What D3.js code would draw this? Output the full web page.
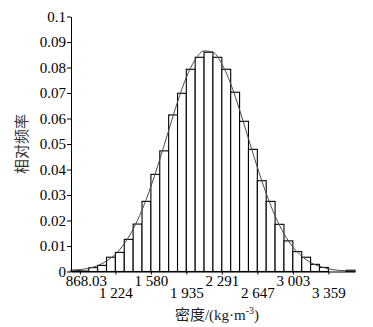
<!DOCTYPE html>
<html>
<head>
<meta charset="utf-8">
<script src="https://cdn.jsdelivr.net/npm/d3@7"></script>
<style>
body { margin: 0; background: #fff; }
text { font-family: "Liberation Serif", "Noto Sans CJK SC", serif; }
</style>
</head>
<body>
<div id="chart"></div>
<script>
// bin edges (kg/m3), 32 bins of ~89
var binEdges = [779.03, 868.03, 957, 1046, 1135, 1224, 1313, 1402, 1491, 1580, 1669,
                1758, 1847, 1935, 2024, 2113, 2202, 2291, 2380, 2469, 2558, 2647,
                2736, 2825, 2914, 3003, 3092, 3181, 3270, 3359, 3448, 3537, 3626];

// relative frequency of each bin
var relFreq = [0.0005, 0.0002, 0.0015, 0.0024, 0.0056, 0.0075, 0.0126, 0.0186,
               0.0275, 0.0381, 0.0473, 0.0614, 0.0699, 0.0793, 0.0840, 0.0860,
               0.0840, 0.0793, 0.0703, 0.0589, 0.0479, 0.0356, 0.0275, 0.0185,
               0.0120, 0.0078, 0.0056, 0.0028, 0.0016, 0, 0, 0.0005];

// fitted curve, read at each bin edge
var fitCurve = [0.0003, 0.0007, 0.0013, 0.0023, 0.0041, 0.0068, 0.0109, 0.0166,
                0.0241, 0.0333, 0.0440, 0.0553, 0.0665, 0.0761, 0.0831, 0.0865,
                0.0860, 0.0814, 0.0736, 0.0634, 0.0521, 0.0409, 0.0306, 0.0218,
                0.0148, 0.0096, 0.0060, 0.0035, 0.0020, 0.0011, 0.0005, 0.0003, 0.0001];

var xTicks = [868.03, 1224, 1580, 1935, 2291, 2647, 3003, 3359];
var xTickLabels = ["868.03", "1 224", "1 580", "1 935", "2 291", "2 647", "3 003", "3 359"];

var yTicks = [0, 0.01, 0.02, 0.03, 0.04, 0.05, 0.06, 0.07, 0.08, 0.09, 0.1];
var yTickLabels = ["0", "0.01", "0.02", "0.03", "0.04", "0.05", "0.06", "0.07", "0.08", "0.09", "0.1"];

var margin = {top: 16.5, right: 18, bottom: 55.5, left: 71};
var width = 373 - margin.left - margin.right,
    height = 327 - margin.top - margin.bottom;

var svg = d3.select("#chart")
    .append("svg")
    .attr("width", 373)
    .attr("height", 327)
    .append("g")
    .attr("transform", "translate(" + margin.left + "," + margin.top + ")");

var x = d3.scaleLinear()
    .domain([binEdges[0], binEdges[binEdges.length - 1]])
    .range([0, width]);

var y = d3.scaleLinear()
    .domain([0, 0.1])
    .range([height, 0]);

// bars
svg.selectAll(".bar")
    .data(relFreq)
    .join("rect")
    .attr("class", "bar")
    .attr("x", (d, i) => x(binEdges[i]))
    .attr("y", d => y(d))
    .attr("width", (d, i) => x(binEdges[i + 1]) - x(binEdges[i]))
    .attr("height", d => y(0) - y(d))
    .attr("fill", "#fff")
    .attr("stroke", "#000")
    .attr("stroke-width", 1.1);

// fitted curve
var line = d3.line()
    .x((d, i) => x(binEdges[i]))
    .y(d => y(d))
    .curve(d3.curveMonotoneX);

svg.append("path")
    .datum(fitCurve)
    .attr("d", line)
    .attr("fill", "none")
    .attr("stroke", "#4a4a4a")
    .attr("stroke-width", 1);

// x axis, labels staggered on two rows
var xAxis = svg.append("g")
    .attr("transform", "translate(0," + height + ")")
    .call(d3.axisBottom(x)
        .tickValues(xTicks)
        .tickSize(3)
        .tickSizeOuter(0)
        .tickFormat((d, i) => xTickLabels[i]));

xAxis.selectAll("text")
    .attr("y", (d, i) => i % 2 == 0 ? 4 : 16)
    .attr("dx", (d, i) => i == 0 ? 6 : 0)
    .style("font-size", "15px")
    .attr("fill", "#000");

// y axis
svg.append("g")
    .call(d3.axisLeft(y)
        .tickValues(yTicks)
        .tickSize(4)
        .tickPadding(1)
        .tickSizeOuter(0)
        .tickFormat((d, i) => yTickLabels[i]))
    .selectAll("text")
    .style("font-size", "15px")
    .attr("fill", "#000");

svg.selectAll(".domain").attr("stroke", "#000");

// axis titles
svg.append("text")
    .attr("transform", "translate(" + (22 - margin.left) + "," + (144 - margin.top) + ") rotate(-90)")
    .attr("text-anchor", "middle")
    .attr("dominant-baseline", "central")
    .style("font-size", "15px")
    .attr("fill", "#333")
    .text("相对频率");

var xTitle = svg.append("text")
    .attr("x", 217 - margin.left)
    .attr("y", 320 - margin.top)
    .attr("text-anchor", "middle")
    .style("font-size", "15px")
    .attr("fill", "#222");
xTitle.append("tspan").text("密度/(kg·m");
xTitle.append("tspan").attr("dy", -6).style("font-size", "10px").text("-3");
xTitle.append("tspan").attr("dy", 6).text(")");
</script>
</body>
</html>
